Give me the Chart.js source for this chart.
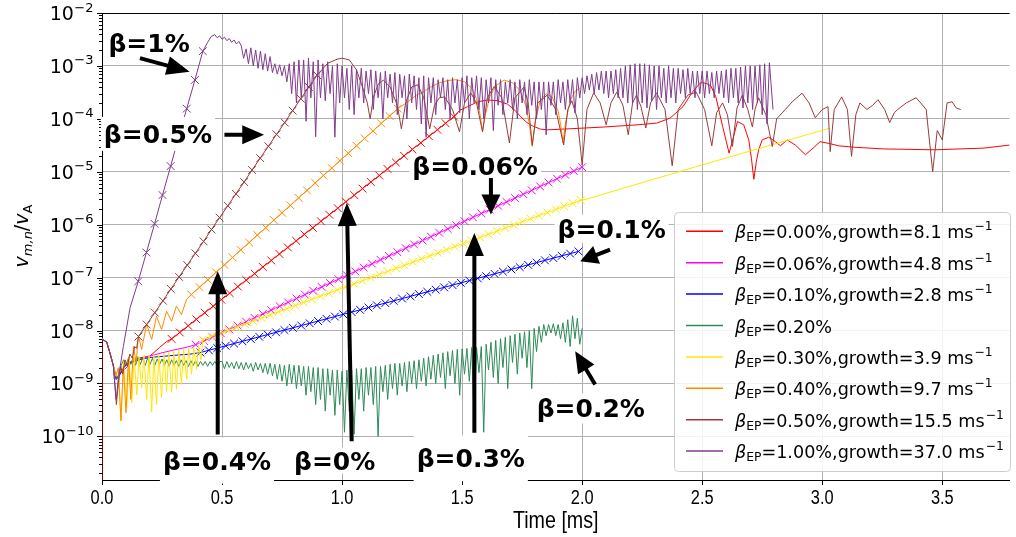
<!DOCTYPE html>
<html>
<head>
<meta charset="utf-8">
<script src="https://cdn.jsdelivr.net/npm/chart.js@4.4.0/dist/chart.umd.min.js"></script>
<style>
  html, body { margin: 0; padding: 0; background: #fff; }
  canvas { display: block; }
</style>
</head>
<body>
<canvas id="plot" width="1016" height="537"></canvas>
<script>
// axis ranges and ticks
const xMin = 0, xMax = 3.78;
const xTicks = [0, 0.5, 1.0, 1.5, 2.0, 2.5, 3.0, 3.5];
const yMin = 1.5e-11, yMax = 1e-2;
const yMajor = [-10, -9, -8, -7, -6, -5, -4, -3, -2];

// legend text
const betas = ['0.00', '0.06', '0.10', '0.20', '0.30', '0.40', '0.50', '1.00'];
const rates = ['8.1', '4.8', '2.8', null, '3.9', '9.7', '15.5', '37.0'];
const colors = ['#ff0000', '#ff00ff', '#0000ff', '#2e8b57', '#ffe600', '#ff8c00', '#983c3c', '#803c8c'];

// start of every run, [time ms, v/vA]
const shared = [[0,7e-9],[0.02,6e-9],[0.035,3.5e-9],[0.047,2.2e-9]];

// beta = 0 %
const redHead = [[0,1e-11]].concat(shared, [[0.058,1.2e-9],[0.07,1.4e-9],[0.09,2e-9],[0.12,2.6e-9],[0.15,3e-9],[0.2,3.3e-9],[0.24,4.8e-9],[0.269,6.2e-9]]);
const redFit = [[0.290,6.95e-9],[0.324,9.2e-9],[0.359,1.23e-8],[0.393,1.63e-8],[0.428,2.17e-8],[0.463,2.88e-8],[0.497,3.83e-8],[0.532,5.08e-8],[0.566,6.76e-8],[0.601,8.98e-8],[0.636,1.19e-7],[0.670,1.59e-7],[0.705,2.11e-7],[0.739,2.8e-7],[0.774,3.72e-7],[0.809,4.94e-7],[0.843,6.58e-7],[0.878,8.73e-7],[0.912,1.16e-6],[0.947,1.54e-6],[0.982,2.05e-6],[1.016,2.72e-6],[1.051,3.62e-6],[1.085,4.81e-6],[1.120,6.4e-6],[1.155,8.5e-6],[1.189,1.13e-5],[1.224,1.5e-5],[1.258,2.0e-5],[1.293,2.65e-5],[1.328,3.52e-5],[1.362,4.68e-5],[1.397,6.22e-5],[1.431,8.26e-5],[1.466,1.1e-4]];
const redTail = [[1.49,1.45e-4],[1.523,1.7e-4],[1.565,2.1e-4],[1.606,2.27e-4],[1.647,2.2e-4],[1.689,1.9e-4],[1.72,1.45e-4],[1.744,1.1e-4],[1.77,8.5e-5],[1.792,7.4e-5],[1.826,6.4e-5],[1.854,6.2e-5],[1.95,6.5e-5],[2.088,7e-5],[2.228,7.7e-5],[2.31,8.3e-5],[2.366,1.03e-4],[2.42,1.7e-4],[2.457,3.1e-4],[2.49,4.7e-4],[2.502,4.85e-4],[2.52,4.6e-4],[2.536,4.2e-4],[2.557,2.6e-4],[2.572,1.3e-4],[2.585,7.2e-5],[2.6,3.8e-5],[2.612,2.25e-5],[2.627,4e-5],[2.647,8.9e-5],[2.673,7.7e-5],[2.694,4e-5],[2.705,1.8e-5],[2.715,7.2e-6],[2.725,1.5e-5],[2.735,2.6e-5],[2.75,4e-5],[2.777,4.5e-5],[2.805,3.7e-5],[2.826,3.1e-5],[2.854,4e-5],[2.888,3.2e-5],[2.93,2.1e-5],[2.962,2.8e-5],[2.991,3.7e-5],[3.033,3.4e-5],[3.067,3.1e-5],[3.136,2.9e-5],[3.26,2.7e-5],[3.467,2.6e-5],[3.674,2.8e-5],[3.781,3.2e-5]];

// beta = 0.06 %
const magHead = shared.concat([[0.06,1.2e-9],[0.08,1.6e-9],[0.12,2.4e-9],[0.16,2.9e-9],[0.2,3.3e-9],[0.25,3.8e-9],[0.3,4.3e-9],[0.35,4.8e-9]]);
const magFit = [[0.390,5.4e-9],[0.425,6.35e-9],[0.460,7.51e-9],[0.495,8.88e-9],[0.530,1.05e-8],[0.565,1.24e-8],[0.600,1.47e-8],[0.635,1.74e-8],[0.670,2.06e-8],[0.705,2.43e-8],[0.740,2.88e-8],[0.775,3.41e-8],[0.810,4.03e-8],[0.845,4.77e-8],[0.880,5.64e-8],[0.915,6.67e-8],[0.950,7.9e-8],[0.985,9.34e-8],[1.020,1.11e-7],[1.055,1.31e-7],[1.090,1.55e-7],[1.125,1.83e-7],[1.160,2.17e-7],[1.195,2.56e-7],[1.230,3.03e-7],[1.265,3.59e-7],[1.300,4.24e-7],[1.335,5.02e-7],[1.370,5.94e-7],[1.405,7.02e-7],[1.440,8.31e-7],[1.475,9.83e-7],[1.510,1.16e-6],[1.545,1.38e-6],[1.580,1.63e-6],[1.615,1.93e-6],[1.650,2.28e-6],[1.685,2.69e-6],[1.720,3.19e-6],[1.755,3.77e-6],[1.790,4.46e-6],[1.825,5.28e-6],[1.860,6.25e-6],[1.895,7.39e-6],[1.930,8.74e-6],[1.965,1.034e-5],[2.000,1.224e-5]];

// beta = 0.10 %
const blueHead = shared.concat([[0.06,1.2e-9],[0.075,1.5e-9],[0.1,2.3e-9],[0.15,2.8e-9],[0.2,3.1e-9],[0.3,3.4e-9],[0.37,3.6e-9]]);
const blueFit = [[0.410,3.84e-9],[0.445,4.24e-9],[0.480,4.67e-9],[0.515,5.15e-9],[0.550,5.68e-9],[0.585,6.27e-9],[0.620,6.91e-9],[0.655,7.62e-9],[0.690,8.4e-9],[0.725,9.27e-9],[0.760,1.022e-8],[0.795,1.127e-8],[0.830,1.243e-8],[0.865,1.37e-8],[0.900,1.511e-8],[0.935,1.666e-8],[0.970,1.837e-8],[1.005,2.03e-8],[1.040,2.23e-8],[1.075,2.46e-8],[1.110,2.72e-8],[1.145,3.0e-8],[1.180,3.3e-8],[1.215,3.64e-8],[1.250,4.02e-8],[1.285,4.43e-8],[1.320,4.89e-8],[1.355,5.39e-8],[1.390,5.94e-8],[1.425,6.55e-8],[1.460,7.22e-8],[1.495,7.97e-8],[1.530,8.79e-8],[1.565,9.69e-8],[1.600,1.068e-7],[1.635,1.178e-7],[1.670,1.299e-7],[1.705,1.433e-7],[1.740,1.58e-7],[1.775,1.742e-7],[1.810,1.921e-7],[1.845,2.12e-7],[1.880,2.34e-7],[1.915,2.58e-7],[1.950,2.84e-7],[1.985,3.13e-7]];

// beta = 0.20 % (no growth)
const greenHead = shared.concat([[0.06,1.2e-9],[0.07,1.5e-9],[0.08,2.2e-9],
  [0.09,2.8e-9],[0.10,2.2e-9],[0.11,3.0e-9],[0.12,2.3e-9],[0.13,3.1e-9],[0.14,2.2e-9],[0.15,3.2e-9],[0.16,2.3e-9],[0.17,3.1e-9],[0.18,2.2e-9],[0.19,3.0e-9],[0.20,2.3e-9],
  [0.21,3.0e-9],[0.22,2.2e-9],[0.23,2.9e-9],[0.24,2.3e-9],[0.25,2.9e-9],[0.26,2.2e-9],[0.27,2.8e-9],[0.28,2.1e-9],[0.29,2.8e-9],[0.30,2.2e-9],[0.31,2.7e-9],[0.32,2.1e-9],
  [0.33,2.8e-9],[0.34,2.2e-9],[0.35,2.7e-9],[0.36,2.1e-9],[0.37,2.7e-9],[0.38,2.2e-9],[0.39,2.7e-9],[0.40,2.1e-9],[0.41,2.6e-9],[0.42,2.2e-9],[0.43,2.6e-9],[0.44,2.1e-9],
  [0.45,2.6e-9],[0.46,2.2e-9],[0.47,2.6e-9],[0.48,2.2e-9],[0.49,2.6e-9],
  [0.50,2.6e-9],[0.51,1.9e-9],[0.52,2.6e-9],[0.53,2.0e-9],[0.54,2.5e-9],[0.55,1.9e-9],[0.56,2.6e-9],[0.57,1.9e-9],[0.58,2.5e-9],[0.59,1.8e-9],[0.60,2.5e-9],
  [0.61,1.9e-9],[0.62,2.4e-9],[0.63,1.7e-9],[0.64,2.5e-9],[0.65,1.8e-9],[0.66,2.4e-9],[0.67,1.6e-9],[0.68,2.4e-9],[0.69,1.5e-9],[0.70,2.4e-9],[0.71,1.4e-9],[0.72,2.3e-9],
  [0.73,1.2e-9],[0.74,2.3e-9],[0.75,1.1e-9],[0.76,2.2e-9],[0.77,9e-10],[0.78,2.3e-9],[0.79,1e-9],[0.80,2.2e-9],[0.81,8e-10],[0.82,2.2e-9],[0.83,9e-10],[0.84,2.1e-9],
  [0.85,6e-10],[0.86,2.1e-9],[0.87,7e-10],[0.88,2e-9],[0.89,4e-10],[0.90,2e-9],[0.91,5e-10],[0.92,1.9e-9],[0.93,3e-10],[0.94,1.9e-9],[0.95,6e-10],[0.96,1.8e-9],
  [0.97,2.5e-10],[0.98,1.8e-9],[0.99,4e-10],[1.00,1.7e-9],[1.01,1.2e-10],[1.02,1.8e-9],[1.03,3e-10],[1.04,1.8e-9],[1.05,1.1e-10],[1.06,1.9e-9],[1.07,5e-10],[1.08,1.9e-9],
  [1.09,3e-10],[1.10,2e-9],[1.11,6e-10],[1.12,2e-9],[1.13,4e-10],[1.14,2.1e-9],[1.15,1e-10],[1.16,2.1e-9],[1.17,7e-10],[1.18,2.2e-9],[1.19,5e-10],[1.20,2.3e-9],
  [1.21,8e-10],[1.22,2.4e-9],[1.23,6e-10],[1.24,2.4e-9],[1.25,9e-10],[1.26,2.5e-9],[1.27,7e-10],[1.28,2.6e-9],[1.29,1e-9],[1.30,2.7e-9],[1.31,8e-10],[1.32,2.8e-9],
  [1.33,1.1e-9],[1.34,3e-9],[1.35,9e-10],[1.36,3.2e-9],[1.37,1.2e-9],[1.38,3.4e-9],[1.39,1e-9],[1.40,3.6e-9],[1.41,1.3e-9],[1.42,3.8e-9],[1.43,8e-10],[1.44,4e-9],
  [1.45,1.4e-9],[1.46,4.2e-9],[1.47,1e-9],[1.48,4.4e-9],[1.49,6e-10],[1.50,4.5e-9],[1.51,1.5e-9],[1.52,4.6e-9],[1.53,1.1e-9],[1.54,4.8e-9],[1.55,2e-10],[1.56,4.8e-9],
  [1.57,1.6e-9],[1.58,5e-9],[1.59,1.2e-10],[1.60,5.5e-9],[1.61,1.8e-9],[1.62,6e-9],[1.63,1.3e-9],[1.64,6.5e-9],[1.65,1e-9],[1.66,7e-9],[1.67,2e-9],[1.68,7.5e-9],
  [1.69,8e-10],[1.70,8e-9],[1.71,2.5e-9],[1.72,8.5e-9],[1.73,1.5e-9],[1.74,9e-9],[1.75,3e-9],[1.76,9.5e-9],[1.77,2e-9],[1.78,1e-8],[1.79,8e-10],[1.80,1.1e-8],
  [1.81,4e-9],[1.82,1.2e-8],[1.83,6e-9],[1.84,1.3e-8],[1.85,8e-9],[1.86,1.3e-8],[1.87,9e-9],[1.88,1.35e-8],[1.89,8e-9],[1.90,1.3e-8],[1.91,7e-9],[1.92,1.4e-8],
  [1.93,6e-9],[1.94,1.6e-8],[1.95,5e-9],[1.96,1.9e-8],[1.97,7e-9],[1.98,1.7e-8],[1.99,5.5e-9],[2.00,1.1e-8]]);

// beta = 0.30 %
const yelHead = shared.concat([[0.058,1.4e-9],[0.068,1.7e-9],[0.079,1.95e-10],[0.09,2.6e-9],[0.103,3.5e-10],[0.113,2.8e-9],[0.124,4.3e-10],[0.134,3.1e-9],[0.145,6.1e-10],[0.154,3.2e-9],[0.165,8.3e-10],[0.175,3.4e-9],[0.186,5e-10],[0.196,3.4e-9],[0.207,2.9e-10],[0.216,3.5e-9],[0.227,4e-10],[0.237,3.5e-9],[0.248,5.4e-10],[0.258,3.7e-9],[0.269,7.1e-10],[0.278,3.85e-9],[0.29,6.8e-10],[0.299,4e-9],[0.31,7.8e-10],[0.32,4.2e-9],[0.331,9.6e-10],[0.34,4.4e-9],[0.353,1.2e-9],[0.361,4.6e-9],[0.373,1.5e-9],[0.382,4.8e-9],[0.394,1.85e-9],[0.402,5.2e-9],[0.412,2.8e-9]]);
const yelFit = [[0.420,6.73e-9],[0.455,7.7e-9],[0.490,8.82e-9],[0.525,1.009e-8],[0.560,1.154e-8],[0.595,1.321e-8],[0.630,1.512e-8],[0.665,1.73e-8],[0.700,1.98e-8],[0.735,2.27e-8],[0.770,2.59e-8],[0.805,2.97e-8],[0.840,3.4e-8],[0.875,3.89e-8],[0.910,4.45e-8],[0.945,5.09e-8],[0.980,5.83e-8],[1.015,6.67e-8],[1.050,7.63e-8],[1.085,8.74e-8],[1.120,1.0e-7],[1.155,1.144e-7],[1.190,1.31e-7],[1.225,1.5e-7],[1.260,1.71e-7],[1.295,1.96e-7],[1.330,2.25e-7],[1.365,2.57e-7],[1.400,2.94e-7],[1.435,3.37e-7],[1.470,3.85e-7],[1.505,4.41e-7],[1.540,5.05e-7],[1.575,5.78e-7],[1.610,6.61e-7],[1.645,7.56e-7],[1.680,8.66e-7],[1.715,9.91e-7],[1.750,1.134e-6],[1.785,1.297e-6],[1.820,1.485e-6],[1.855,1.7e-6],[1.890,1.945e-6],[1.925,2.23e-6],[1.960,2.55e-6],[1.995,2.91e-6]];
const yelTail = [[2.02,3.06e-6],[2.5,1.35e-5],[3.033,6.7e-5]];

// beta = 0.40 %
const oraHead = shared.concat([[0.058,1.4e-9],[0.068,2e-9],[0.079,2e-10],[0.089,2.1e-9],[0.1,2.8e-10],[0.11,3.2e-9],[0.12,5e-10],[0.131,5e-9],[0.142,2.5e-9],[0.152,8e-9],[0.165,4.4e-9],[0.186,1.3e-8],[0.207,6.8e-9],[0.227,1.86e-8],[0.248,1.05e-8],[0.269,2.3e-8],[0.29,1.5e-8],[0.31,2.9e-8],[0.331,2e-8],[0.352,3.85e-8]]);
const oraFit = [[0.372,4.78e-8],[0.406,6.6e-8],[0.441,9.1e-8],[0.475,1.26e-7],[0.510,1.74e-7],[0.544,2.41e-7],[0.578,3.33e-7],[0.613,4.6e-7],[0.647,6.37e-7],[0.682,8.8e-7],[0.716,1.22e-6],[0.750,1.68e-6],[0.785,2.32e-6],[0.819,3.21e-6],[0.854,4.44e-6],[0.888,6.14e-6],[0.922,8.5e-6],[0.957,1.17e-5],[0.991,1.62e-5],[1.026,2.24e-5],[1.060,3.1e-5],[1.094,4.28e-5],[1.129,5.9e-5],[1.163,8.2e-5],[1.198,1.13e-4],[1.232,1.56e-4]];
const oraTail = [[1.26,1.9e-4],[1.285,2.3e-4],[1.31,2.8e-4],[1.34,3.3e-4],[1.37,4e-4],[1.4,4.7e-4],[1.44,5.3e-4],[1.475,5.5e-4],[1.51,5e-4],[1.54,3.8e-4],[1.56,2.4e-4],[1.575,1.2e-4],[1.585,5.7e-5],[1.597,1.2e-4],[1.615,2.6e-4],[1.64,4.2e-4],[1.675,5.4e-4],[1.71,4.8e-4],[1.74,3.5e-4],[1.765,1.8e-4],[1.78,8e-5],[1.792,3e-5],[1.805,9e-5],[1.825,2.2e-4],[1.85,3e-4],[1.875,2.6e-4],[1.9,1.4e-4],[1.912,7e-5],[1.92,3.5e-5],[1.93,8e-5],[1.95,2.2e-4],[1.97,3.3e-4],[1.99,3.8e-4]];

// beta = 0.50 %
const brnHead = shared.concat([[0.06,4e-10],[0.068,1e-9],[0.078,2.1e-9],[0.086,1.5e-9],[0.096,2.8e-9],[0.106,2.1e-9],[0.116,3.6e-9],[0.126,3e-9],[0.136,5e-9],[0.144,4.6e-9]]);
const brnFit = [[0.152,7.7e-9],[0.186,1.3e-8],[0.220,2.18e-8],[0.254,3.65e-8],[0.287,6.1e-8],[0.321,1.03e-7],[0.355,1.72e-7],[0.389,2.88e-7],[0.423,4.84e-7],[0.456,8.1e-7],[0.490,1.36e-6],[0.524,2.28e-6],[0.558,3.83e-6],[0.592,6.4e-6],[0.625,1.08e-5],[0.659,1.81e-5],[0.693,3.03e-5],[0.727,5.1e-5],[0.761,8.5e-5],[0.794,1.43e-4],[0.828,2.4e-4],[0.862,4.0e-4],[0.896,6.7e-4]];
const brnTail = [[0.94,1.12e-3],[0.98,1.34e-3],[1.0,1.4e-3],[1.03,1.3e-3],[1.06,8.4e-4],[1.085,4e-4],[1.105,2e-4],[1.117,1e-4],[1.13,2.5e-4],[1.15,4.5e-4],[1.172,5.4e-4],[1.2,4e-4],[1.23,1.8e-4],[1.247,6.5e-5],[1.265,2e-4],[1.29,4e-4],[1.316,4.4e-4],[1.34,2.5e-4],[1.365,6.5e-5],[1.385,1.8e-4],[1.405,2.5e-4],[1.427,2.6e-4],[1.46,1.5e-4],[1.489,5.7e-5],[1.51,2e-4],[1.536,3.1e-4],[1.56,2e-4],[1.585,5.7e-5],[1.605,2.5e-4],[1.634,4.1e-4],[1.665,2.5e-4],[1.697,3.5e-5],[1.72,2.5e-4],[1.758,4e-4],[1.775,2e-4],[1.792,3.2e-5],[1.815,2e-4],[1.854,2.8e-4],[1.89,1.5e-4],[1.923,3.2e-5],[1.94,1.5e-4],[1.957,2.2e-4],[1.98,1e-4],[2.0,1.35e-5],[2.02,1.5e-4],[2.048,3.1e-4],[2.075,2e-4],[2.1,7.7e-5],[2.12,2e-4],[2.144,3.2e-4],[2.17,1.8e-4],[2.192,5e-5],[2.21,2e-4],[2.226,2.8e-4],[2.245,1.7e-4],[2.265,6.7e-5],[2.285,2e-4],[2.31,3.1e-4],[2.345,1.5e-4],[2.375,1.3e-5],[2.4,1.5e-4],[2.44,2.8e-4],[2.475,3.2e-4],[2.51,1.5e-4],[2.54,3.1e-5],[2.56,1.3e-4],[2.585,2e-4],[2.605,1.2e-4],[2.626,3e-5],[2.645,1.6e-4],[2.667,2.8e-4],[2.69,1.5e-4],[2.709,7e-5],[2.72,1.5e-4],[2.735,2.5e-4],[2.765,1.2e-4],[2.792,3e-5],[2.81,1e-4],[2.846,1.5e-4],[2.875,2.1e-4],[2.916,3.05e-4],[2.945,2e-4],[2.971,1.05e-4],[3.0,1.5e-4],[3.024,1.7e-4],[3.033,2.4e-5],[3.05,1.5e-4],[3.081,2.6e-4],[3.105,1.5e-4],[3.122,1.95e-5],[3.14,1.2e-4],[3.157,2e-4],[3.186,1.5e-4],[3.21,1.8e-4],[3.232,2.3e-4],[3.26,1.5e-4],[3.281,8.5e-5],[3.3,1.3e-4],[3.314,1.5e-4],[3.35,2e-4],[3.391,2.5e-4],[3.41,2e-4],[3.433,1.5e-4],[3.46,1e-5],[3.479,6e-5],[3.5,4e-5],[3.52,2e-4],[3.541,2.1e-4],[3.558,1.6e-4],[3.577,1.5e-4]];

// beta = 1.00 %
const purHead = shared.concat([[0.059,5e-10],[0.069,1.35e-9],[0.089,5e-9],[0.117,2.7e-8]]);
const purFit = [[0.151,8.5e-8],[0.185,2.98e-7],[0.219,1.04e-6],[0.252,3.63e-6],[0.286,1.28e-5],[0.319,4.46e-5],[0.353,1.56e-4],[0.387,5.44e-4],[0.42,1.9e-3]];
const purTail = [[0.44,2.8e-3],[0.455,3.6e-3],[0.47,3.9e-3],[0.48,3.4e-3],[0.49,3.7e-3],[0.5,3.2e-3],[0.51,3.5e-3],[0.52,3e-3],[0.53,3.3e-3],[0.54,2.8e-3],[0.55,3.1e-3],[0.56,2.6e-3],[0.57,2.9e-3],[0.58,2.4e-3],
  [0.59,1.4e-3],[0.6,2.1e-3],[0.61,1.1e-3],[0.62,2.2e-3],[0.63,1e-3],[0.64,2e-3],[0.65,9e-4],[0.66,1.9e-3],[0.67,8.5e-4],[0.68,1.7e-3],[0.69,8e-4],[0.7,1.5e-3],[0.71,7.5e-4],[0.72,1.1e-3],[0.73,7e-4],[0.74,1.05e-3],[0.75,6.5e-4],[0.76,1e-3],[0.77,5e-4],[0.78,1.1e-3],[0.79,3e-4],
  [0.8,1.2e-3],[0.81,2e-4],[0.82,1.3e-3],[0.83,2.5e-4],[0.84,1.3e-3],[0.85,9e-5],[0.86,1.4e-3],[0.87,2.5e-4],[0.88,1.2e-3],[0.89,4.6e-5],[0.9,1.3e-3],[0.91,2.5e-4],[0.92,1.1e-3],[0.93,2.2e-4],[0.94,1.2e-3],[0.95,3e-4],[0.96,1e-3],[0.97,4.5e-5],[0.98,1.1e-3],[0.99,2e-4],
  [1,1e-3],[1.01,2.5e-4],[1.02,9e-4],[1.03,1.5e-4],[1.04,1e-3],[1.05,1.2e-4],[1.06,8.5e-4],[1.07,2.5e-4],[1.08,9e-4],[1.09,2e-4],[1.1,8e-4],[1.11,3e-4],[1.12,8.5e-4],[1.13,1.5e-4],[1.14,8e-4],[1.15,2.5e-4],[1.16,7.5e-4],[1.17,1e-4],[1.18,8e-4],[1.19,2.5e-4],
  [1.2,7e-4],[1.21,2e-4],[1.22,7.5e-4],[1.23,1.2e-4],[1.24,7e-4],[1.25,2.5e-4],[1.26,6.5e-4],[1.27,1e-4],[1.28,7e-4],[1.29,2e-4],[1.3,6.5e-4],[1.31,1.5e-4],[1.32,6e-4],[1.33,8e-5],[1.34,6.5e-4],[1.35,4.5e-5],[1.36,6e-4],[1.37,2e-4],[1.38,6e-4],[1.39,1.2e-4],
  [1.4,5.5e-4],[1.41,2.5e-4],[1.42,6e-4],[1.43,1.5e-4],[1.44,5.5e-4],[1.45,1e-4],[1.46,6e-4],[1.47,2e-4],[1.48,5.5e-4],[1.49,1.3e-4],[1.5,6e-4],[1.51,2e-4],[1.52,6.5e-4],[1.53,1e-4],[1.54,6e-4],[1.55,2e-4],[1.56,6.5e-4],[1.57,1.5e-4],[1.58,6e-4],[1.59,1e-4],
  [1.6,5.5e-4],[1.61,2e-4],[1.62,6e-4],[1.63,6e-5],[1.64,5.5e-4],[1.65,1.8e-4],[1.66,5.5e-4],[1.67,1.2e-4],[1.68,5e-4],[1.69,2e-4],[1.7,5.5e-4],[1.71,1.5e-4],[1.72,5e-4],[1.73,1e-4],[1.74,5.5e-4],[1.75,2e-4],[1.76,5e-4],[1.77,1.2e-4],[1.78,5.5e-4],[1.79,1.8e-4],
  [1.8,5e-4],[1.81,1e-4],[1.82,5e-4],[1.83,1.5e-4],[1.84,5e-4],[1.85,5e-5],[1.86,5e-4],[1.87,1.8e-4],[1.88,5e-4],[1.89,1.2e-4],[1.9,5.5e-4],[1.91,2e-4],[1.92,5e-4],[1.93,1.5e-4],[1.94,5.5e-4],[1.95,2e-4],[1.96,5.5e-4],[1.97,1.3e-4],[1.98,6e-4],[1.99,2.5e-4],
  [2,6e-4],[2.01,3e-4],[2.02,6.5e-4],[2.03,3.5e-4],[2.04,7e-4],[2.05,3e-4],[2.06,7.5e-4],[2.07,3.5e-4],[2.08,8e-4],[2.09,3e-4],[2.1,8e-4],[2.11,2.5e-4],[2.12,8e-4],[2.13,3e-4],[2.14,8.5e-4],[2.15,2.5e-4],[2.16,9e-4],[2.17,2.5e-4],[2.18,1e-3],[2.19,2e-4],
  [2.2,1.05e-3],[2.21,2e-4],[2.22,1.1e-3],[2.23,1.5e-4],[2.24,1.1e-3],[2.25,2e-4],[2.26,1.1e-3],[2.27,1.6e-4],[2.28,1.05e-3],[2.29,2.2e-4],[2.3,1e-3],[2.31,1.5e-4],[2.32,1e-3],[2.33,2.5e-4],[2.34,9e-4],[2.35,2e-4],[2.36,1e-3],[2.37,2.5e-4],[2.38,9e-4],[2.39,2e-4],
  [2.4,9e-4],[2.41,3e-4],[2.42,8.5e-4],[2.43,2.5e-4],[2.44,9e-4],[2.45,3e-4],[2.46,8e-4],[2.47,2.5e-4],[2.48,8e-4],[2.49,3e-4],[2.5,8e-4],[2.51,2.5e-4],[2.52,8e-4],[2.53,3e-4],[2.54,7.5e-4],[2.55,2.5e-4],[2.56,8e-4],[2.57,3e-4],[2.58,8e-4],[2.59,2.5e-4],
  [2.6,8.5e-4],[2.61,2e-4],[2.62,9e-4],[2.63,2.5e-4],[2.64,9e-4],[2.65,2e-4],[2.66,9.5e-4],[2.67,1.6e-4],[2.68,1e-3],[2.69,2e-4],[2.7,1e-3],[2.71,1.5e-4],[2.72,1e-3],[2.73,2e-4],[2.74,1.05e-3],[2.75,1.2e-4],[2.76,1.1e-3],[2.77,8e-5],[2.78,1.15e-3],[2.795,1.5e-4]];

// text labels on the plot: [time, value] of text centre and arrow tail/tip
const notes = [
  { text: 'β=1%',    at: [0.196, 2.77e-3],  half: 13, from: [0.158, 1.4e-3],   to: [0.365, 7.8e-4] },
  { text: 'β=0.5%',  at: [0.233, 5.2e-5],   half: 17, from: [0.51, 5e-5],      to: [0.675, 5e-5] },
  { text: 'β=0.4%',  at: [0.479, 3.5e-11],  half: 23, from: [0.482, 1.09e-10], to: [0.482, 1.32e-7] },
  { text: 'β=0%',    at: [0.969, 3.5e-11],  half: 13, from: [1.04, 8.1e-11],   to: [1.02, 2.57e-6] },
  { text: 'β=0.3%',  at: [1.536, 3.85e-11], half: 23, from: [1.551, 1.17e-10], to: [1.551, 6.97e-7] },
  { text: 'β=0.06%', at: [1.554, 1.27e-5],  half: 12, from: [1.62, 7.6e-6],    to: [1.62, 1.55e-6] },
  { text: 'β=0.1%',  at: [2.123, 8.4e-7],   half: 14, from: [2.116, 3.37e-7],  to: [1.992, 2.03e-7] },
  { text: 'β=0.2%',  at: [2.036, 3.37e-10], half: 15, from: [2.054, 9.6e-10],  to: [1.971, 4.07e-9] }
];

const series = [
  [redHead, redFit, redTail],
  [magHead, magFit, []],
  [blueHead, blueFit, []],
  [greenHead, [], []],
  [yelHead, yelFit, yelTail],
  [oraHead, oraFit, oraTail],
  [brnHead, brnFit, brnTail],
  [purHead, purFit, purTail]
];

const SANS = '"DejaVu Sans", sans-serif';
const LIB = '"Liberation Sans", Arial, sans-serif';

const datasets = series.map((s, i) => {
  const a = s[0].length, b = a + s[1].length;
  return {
    data: s[0].concat(s[1], s[2]).map(p => ({ x: p[0], y: p[1] })),
    borderColor: colors[i],
    borderWidth: 1,
    pointStyle: 'crossRot',
    pointRadius: c => (c.dataIndex >= a && c.dataIndex < b ? 5.5 : 0),
    pointBorderColor: colors[i],
    pointBorderWidth: 1,
    fill: false,
    order: series.length - i
  };
});

function piece(ctx, txt, font, x, y) {
  ctx.font = font;
  ctx.fillText(txt, x, y);
  return x + ctx.measureText(txt).width;
}

// narrow text like the original axis font: squeeze Liberation Sans sideways
function narrow(ctx, txt, size, x, y) {
  ctx.save();
  ctx.translate(x, y);
  ctx.scale(0.82, 1);
  ctx.font = size + 'px ' + LIB;
  ctx.textAlign = 'center';
  ctx.fillText(txt, 0, 0);
  ctx.restore();
}

function arrow(ctx, x0, y0, x1, y1) {
  const dx = x1 - x0, dy = y1 - y0, len = Math.hypot(dx, dy);
  const ux = dx / len, uy = dy / len;
  const hl = Math.min(23, len * 0.55), hw = 9.5, sw = 2;
  const bx = x1 - ux * hl, by = y1 - uy * hl;
  ctx.beginPath();
  ctx.moveTo(x0 - uy * sw, y0 + ux * sw);
  ctx.lineTo(bx - uy * sw, by + ux * sw);
  ctx.lineTo(bx - uy * hw, by + ux * hw);
  ctx.lineTo(x1, y1);
  ctx.lineTo(bx + uy * hw, by - ux * hw);
  ctx.lineTo(bx + uy * sw, by - ux * sw);
  ctx.lineTo(x0 + uy * sw, y0 - ux * sw);
  ctx.closePath();
  ctx.fill();
}

const overlay = {
  id: 'overlay',
  afterDraw(chart) {
    const { ctx, chartArea: ar, scales: { x, y } } = chart;
    ctx.save();

    // top spine
    ctx.strokeStyle = '#000';
    ctx.lineWidth = 1;
    ctx.beginPath();
    ctx.moveTo(ar.left, Math.round(ar.top) + 0.5);
    ctx.lineTo(ar.right, Math.round(ar.top) + 0.5);
    ctx.stroke();

    // y ticks, major and minor
    for (let e = -11; e <= -2; e++) {
      for (let m = 1; m <= 9; m++) {
        const v = m * Math.pow(10, e);
        if (v < yMin || v > yMax * 1.0001) continue;
        const py = Math.round(y.getPixelForValue(v)) + 0.5;
        const len = m === 1 ? 5 : 3;
        ctx.beginPath();
        ctx.moveTo(ar.left - len, py);
        ctx.lineTo(ar.left, py);
        ctx.stroke();
      }
    }

    // y tick labels 10^n
    ctx.fillStyle = '#000';
    ctx.textBaseline = 'alphabetic';
    ctx.textAlign = 'left';
    yMajor.forEach(e => {
      const py = y.getPixelForValue(Math.pow(10, e));
      const sup = '−' + Math.abs(e);
      ctx.font = '19px ' + SANS;
      const w1 = ctx.measureText('10').width;
      ctx.font = '13px ' + SANS;
      const w2 = ctx.measureText(sup).width;
      const x0 = ar.left - 9 - w1 - w2;
      piece(ctx, '10', '19px ' + SANS, x0, py + 7);
      piece(ctx, sup, '13px ' + SANS, x0 + w1 + 0.5, py - 1.5);
    });

    // x tick labels and title
    xTicks.forEach(v => narrow(ctx, v.toFixed(1), 20, x.getPixelForValue(v), ar.bottom + 24));
    narrow(ctx, 'Time [ms]', 24, (ar.left + ar.right) / 2, 528);

    // y axis title
    ctx.save();
    ctx.translate(28, 236);
    ctx.rotate(-Math.PI / 2);
    const yParts = [['v', 'italic 19px ' + SANS, 0], ['m,n', 'italic 13px ' + SANS, 4], ['/', '19px ' + SANS, 0], ['v', 'italic 19px ' + SANS, 0], ['A', '13px ' + SANS, 4]];
    let tw = 0;
    yParts.forEach(p => { ctx.font = p[1]; tw += ctx.measureText(p[0]).width; });
    let cx = -tw / 2;
    yParts.forEach(p => { cx = piece(ctx, p[0], p[1], cx, p[2]); });
    ctx.restore();

    // annotations with white boxes and arrows
    ctx.font = 'bold 25px ' + SANS;
    notes.forEach(n => {
      const px = x.getPixelForValue(n.at[0]), py = y.getPixelForValue(n.at[1]);
      const w = ctx.measureText(n.text).width;
      ctx.fillStyle = '#fff';
      ctx.fillRect(px - w / 2 - 3, py - n.half, w + 6, n.half * 2);
      ctx.fillStyle = '#000';
      ctx.textAlign = 'center';
      ctx.fillText(n.text, px, py + 9);
      arrow(ctx, x.getPixelForValue(n.from[0]), y.getPixelForValue(n.from[1]),
                 x.getPixelForValue(n.to[0]), y.getPixelForValue(n.to[1]));
    });
    ctx.textAlign = 'left';

    // legend
    const bx = 674.5, by = 212.5, bw = 336, bh = 259;
    ctx.fillStyle = 'rgba(255,255,255,0.85)';
    ctx.strokeStyle = '#cccccc';
    ctx.beginPath();
    if (ctx.roundRect) ctx.roundRect(bx, by, bw, bh, 4); else ctx.rect(bx, by, bw, bh);
    ctx.fill();
    ctx.stroke();
    colors.forEach((c, i) => {
      const base = 238.3 + 31.4 * i;
      ctx.strokeStyle = c;
      ctx.lineWidth = 1.5;
      ctx.beginPath();
      ctx.moveTo(686, base - 7);
      ctx.lineTo(723, base - 7);
      ctx.stroke();
      ctx.fillStyle = '#000';
      let lx = 735;
      lx = piece(ctx, 'β', 'italic 17.6px ' + SANS, lx, base);
      lx = piece(ctx, 'EP', '12.3px ' + SANS, lx, base + 3);
      let txt = '=' + betas[i] + '%';
      if (rates[i]) txt += ',growth=' + rates[i] + ' ms';
      lx = piece(ctx, txt, '17.6px ' + SANS, lx, base);
      if (rates[i]) piece(ctx, '−1', '12.3px ' + SANS, lx + 1, base - 8);
    });

    ctx.restore();
  }
};

new Chart(document.getElementById('plot'), {
  type: 'line',
  data: { datasets },
  options: {
    responsive: false,
    animation: false,
    devicePixelRatio: 1,
    layout: { padding: { top: 13, right: 0, left: 0, bottom: 0 } },
    plugins: { legend: { display: false }, tooltip: { enabled: false } },
    elements: { line: { tension: 0 } },
    scales: {
      x: {
        type: 'linear',
        min: xMin,
        max: xMax,
        afterBuildTicks: s => { s.ticks = xTicks.map(v => ({ value: v })); },
        afterFit: s => { s.height = 57; },
        ticks: { display: false },
        grid: { color: c => (c.tick && c.tick.value === 0 ? 'rgba(0,0,0,0)' : '#b0b0b0'), tickColor: '#000', tickLength: 5, lineWidth: 1 },
        border: { color: '#000', width: 1 }
      },
      y: {
        type: 'logarithmic',
        min: yMin,
        max: yMax,
        afterBuildTicks: s => { s.ticks = yMajor.map(e => ({ value: Math.pow(10, e) })); },
        afterFit: s => { s.width = 102; },
        ticks: { display: false },
        grid: { color: '#b0b0b0', drawTicks: false, lineWidth: 1 },
        border: { color: '#000', width: 1 }
      }
    }
  },
  plugins: [overlay]
});
</script>
</body>
</html>
